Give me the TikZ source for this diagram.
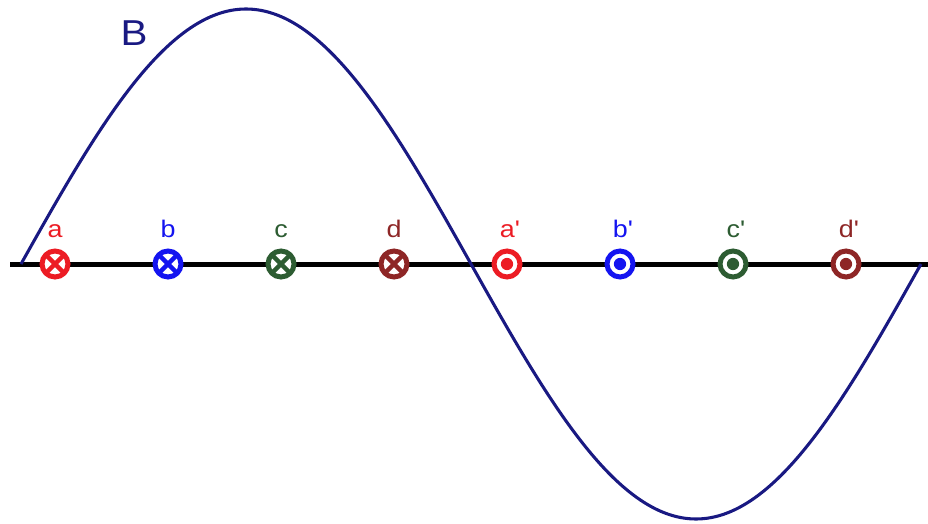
\documentclass[tikz,border=0pt]{standalone}
\usepackage{fontspec}
\setmainfont{Liberation Sans}
\definecolor{fieldblue}{RGB}{25,25,130}
\definecolor{phasea}{RGB}{236,28,36}
\definecolor{phaseb}{RGB}{20,20,240}
\definecolor{phasec}{RGB}{45,92,50}
\definecolor{phased}{RGB}{142,38,38}
\newcommand{\widetxt}[1]{\scalebox{1.12}[1]{#1}}
\tikzset{
    conductor/.style={circle, draw, fill=white, line width=3.75pt, minimum size=19.5pt, inner sep=0pt, outer sep=0pt},
    phaselabel/.style={font=\fontsize{18}{20}\selectfont, anchor=base, inner sep=0pt},
}
\begin{document}
\begin{tikzpicture}[x=0.75pt, y=-0.75pt]
    % Frame
    \useasboundingbox (0,0) rectangle (928,524);
    % Axis
    \coordinate (axL) at (10,264);
    \coordinate (axR) at (928,264);
    \draw[line width=3.75pt] (axL) -- (axR);

    % Field curve
    \draw[fieldblue, line width=2.3pt] plot[domain=21:921, samples=200, smooth] (\x, {264-255*sin(0.4*(\x-21))});
    \node[text=fieldblue, font=\fontsize{27}{27}\selectfont, inner sep=0pt] (Blbl) at (134,33) {\widetxt{B}};

    % Conductors into the page
    \foreach \nm/\xx/\col in {a/55/phasea, b/168/phaseb, c/281/phasec, d/394/phased}{
        \node[conductor, draw=\col] (\nm) at (\xx,264) {};
        \draw[\col, line width=3.3pt] (\nm.north west) -- (\nm.south east);
        \draw[\col, line width=3.3pt] (\nm.north east) -- (\nm.south west);
        \node[phaselabel, text=\col] (\nm-lbl) at (\xx,238) {\widetxt{\nm}};
    }

    % Conductors out of the page
    \foreach \nm/\xx/\col/\txt in {ap/507/phasea/{a\textquotesingle}, bp/620/phaseb/{b\textquotesingle}, cp/733/phasec/{c\textquotesingle}, dp/846/phased/{d\textquotesingle}}{
        \node[conductor, draw=\col] (\nm) at (\xx,264) {};
        \fill[\col] (\nm.center) circle (4.6pt);
        \node[phaselabel, text=\col] (\nm-lbl) at (\xx+3,238) {\widetxt{\txt}};
    }
\end{tikzpicture}
\end{document}
